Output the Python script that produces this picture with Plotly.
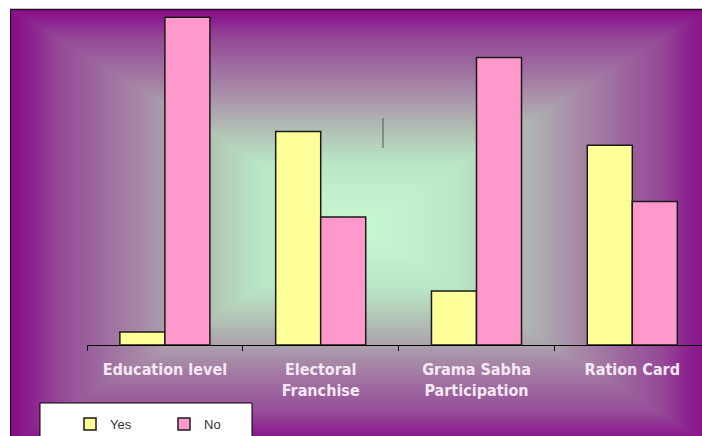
import base64, struct, zlib
import numpy as np
import plotly.graph_objects as go

categories = ["Education level", "Electoral<br>Franchise", "Grama Sabha<br>Participation", "Ration Card"]
yes_values = [3.8, 62.5, 15.8, 58.5]
no_values = [96.0, 37.5, 84.2, 42.0]
series_names = ["Yes", "No"]

W, H = 702, 436
L, R, T, B = 87, 0, 9, 91
PW, PH = W - L - R, H - T - B


def px_x(px):
    return (px - L) / PW


def px_y(py):
    return (H - B - py) / PH


# rectangular "from centre" gradient background
gx0, gy0, gx1, gy1 = 10, 9, 702, 436
cx, cy, hw, hh = 360.0, 226.0, 350.0, 218.0
xs = np.arange(gx0, gx1) + 0.5
ys = np.arange(gy0, gy1) + 0.5
XX, YY = np.meshgrid(xs, ys)
t = np.clip(np.maximum(np.abs(XX - cx) / hw, np.abs(YY - cy) / hh), 0, 1)
stops_t = [0.0, 0.28, 0.42, 0.55, 0.62, 0.74, 0.86, 0.94, 1.0]
stops_c = [(200, 250, 210), (186, 232, 200), (178, 198, 182), (172, 160, 174),
           (168, 138, 168), (158, 106, 160), (150, 74, 152), (140, 34, 144), (134, 12, 134)]
img = np.zeros(t.shape + (3,), dtype=np.uint8)
for ch in range(3):
    img[..., ch] = np.interp(t, stops_t, [c[ch] for c in stops_c]).astype(np.uint8)


def to_png(arr):
    h, w, _ = arr.shape
    raw = b"".join(b"\x00" + arr[i].tobytes() for i in range(h))

    def chunk(tag, data):
        c = struct.pack(">I", len(data)) + tag + data
        return c + struct.pack(">I", zlib.crc32(tag + data) & 0xFFFFFFFF)

    return (b"\x89PNG\r\n\x1a\n" + chunk(b"IHDR", struct.pack(">IIBBBBB", w, h, 8, 2, 0, 0, 0))
            + chunk(b"IDAT", zlib.compress(raw, 9)) + chunk(b"IEND", b""))


src = "data:image/png;base64," + base64.b64encode(to_png(img)).decode()

fig = go.Figure()
fig.add_trace(go.Bar(x=categories, y=yes_values, name=series_names[0],
                     marker=dict(color="#FFFF99", line=dict(color="#1a1a1a", width=1.5))))
fig.add_trace(go.Bar(x=categories, y=no_values, name=series_names[1],
                     marker=dict(color="#FF99CC", line=dict(color="#1a1a1a", width=1.5))))

cat_w = 155.8
fig.update_layout(
    width=W, height=H,
    margin=dict(l=L, r=R, t=T, b=B, pad=0, autoexpand=False),
    paper_bgcolor="white", plot_bgcolor="rgba(0,0,0,0)",
    barmode="group", bargap=0.422, bargroupgap=0,
    showlegend=True,
    legend=dict(orientation="h", x=px_x(70), y=px_y(409), xanchor="left", yanchor="top",
                bgcolor="rgba(0,0,0,0)", borderwidth=0, entrywidth=49, entrywidthmode="pixels",
                font=dict(family="Liberation Sans, Arial", size=13, color="#333333"),
                traceorder="normal"),
    xaxis=dict(range=[-0.5, -0.5 + PW / cat_w], showgrid=False, zeroline=False,
               showline=True, linecolor="black", linewidth=1, automargin=False,
               ticks="outside", ticklen=5, tickcolor="black", tickson="boundaries",
               tickfont=dict(family="DejaVu Sans Condensed, Liberation Sans Narrow, Arial Narrow", size=16,
                             color="#f6e8f6", weight="bold"),
               ticklabelstandoff=10, fixedrange=True),
    yaxis=dict(range=[0, PH / 3.415], visible=False, showgrid=False, zeroline=False, fixedrange=True),
    images=[dict(source=src, xref="paper", yref="paper", x=px_x(gx0), y=px_y(gy0),
                 sizex=(gx1 - gx0) / PW, sizey=(gy1 - gy0) / PH, sizing="stretch",
                 xanchor="left", yanchor="top", layer="below")],
    shapes=[
        dict(type="line", xref="paper", yref="paper", x0=px_x(10.5), x1=px_x(10.5), y0=px_y(9), y1=px_y(440),
             line=dict(color="#111111", width=1)),
        dict(type="line", xref="paper", yref="paper", x0=px_x(10), x1=px_x(705), y0=px_y(9.5), y1=px_y(9.5),
             line=dict(color="#2a0a2a", width=1.5)),
        dict(type="rect", xref="paper", yref="paper", x0=px_x(40), x1=px_x(252), y0=px_y(445), y1=px_y(403),
             fillcolor="white", line=dict(color="black", width=1), layer="above"),
        dict(type="line", xref="paper", yref="paper", x0=px_x(383), x1=px_x(383), y0=px_y(148), y1=px_y(118),
             line=dict(color="#555555", width=1)),
    ],
)

fig.write_html("out.html")
